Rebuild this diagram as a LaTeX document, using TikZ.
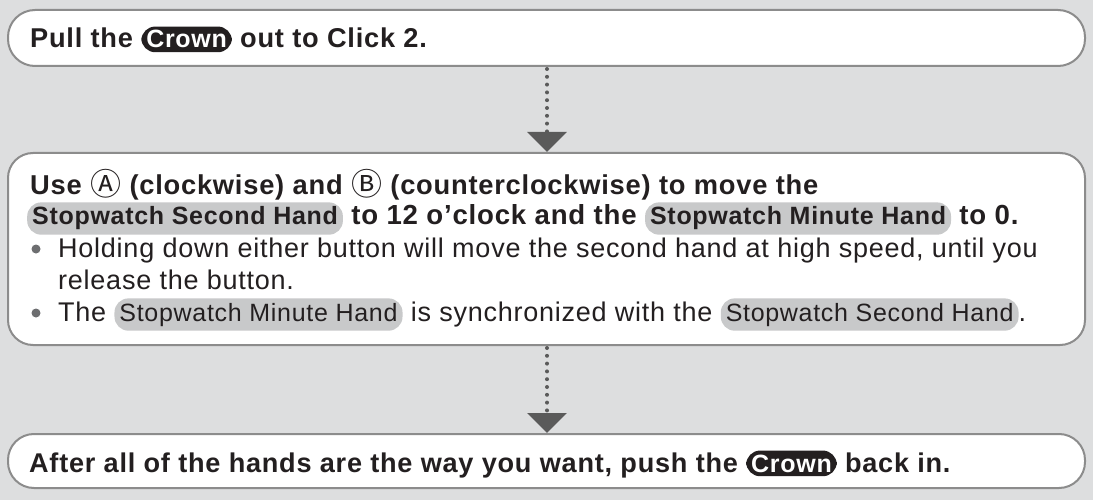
\documentclass[tikz,border=0pt]{standalone}
\usepackage{fontspec}
\setmainfont[LetterSpace=2.8]{Liberation Sans}
\newfontfamily\circfont{Noto Sans CJK JP}
\usetikzlibrary{arrows.meta}
\definecolor{bg}{HTML}{DDDEDF}
\definecolor{frame}{HTML}{8C8C8C}
\definecolor{ink}{HTML}{231F20}
\definecolor{pillgray}{HTML}{C8C9CA}
\definecolor{arrowgray}{HTML}{5A5A5A}
\definecolor{bulletgray}{HTML}{6D6E70}
\tikzset{
  stepbox/.style={draw=frame, line width=2pt, fill=white, inner sep=0pt},
  flowarrow/.style={arrowgray, line width=4pt, line cap=round,
    dash pattern=on 0pt off 7.8pt,
    -{Triangle[width=39pt,length=20pt,line cap=butt]}},
  boldline/.style={anchor=base west, inner sep=0pt, text=ink,
    font=\bfseries\fontsize{#1}{32}\selectfont},
  boldline/.default=27.5,
  plainline/.style={anchor=base west, inner sep=0pt, text=ink,
    font=\fontsize{27}{32}\selectfont},
  bulletdot/.style={circle, fill=bulletgray, inner sep=0pt, minimum size=9pt},
  crownpillstyle/.style={fill=ink, text=white, rounded corners=14pt,
    inner xsep=5pt, inner ysep=4pt, font=\bfseries\fontsize{25}{28}\selectfont},
  graypillstyle/.style={fill=pillgray, text=ink, rounded corners=14pt,
    inner xsep=5pt, inner ysep=4.5pt},
}
\newcommand{\crownpill}[1]{\tikz[baseline=(cp.base)]\node[crownpillstyle](cp){#1};}
\newcommand{\graypill}[1]{\tikz[baseline=(gp.base)]\node[graypillstyle,font=\bfseries\fontsize{25}{28}\selectfont](gp){#1};}
\newcommand{\graypillr}[1]{\tikz[baseline=(gq.base)]\node[graypillstyle,font=\mdseries\fontsize{25}{28}\selectfont](gq){#1};}
\newcommand{\circA}{{\circfont\mdseries\fontsize{31}{31}\selectfont\raisebox{-1pt}{Ⓐ}}}
\newcommand{\circB}{{\circfont\mdseries\fontsize{31}{31}\selectfont\raisebox{-1pt}{Ⓑ}}}
\begin{document}
\begin{tikzpicture}[x=1pt,y=-1pt]
\fill[bg] (0,0) rectangle (1093,500);
\useasboundingbox (0,0) rectangle (1093,500);

\node[stepbox, rounded corners=27pt, minimum width=1077pt, minimum height=56pt] (b1) at (546.5,38) {};
\node[stepbox, rounded corners=25pt, minimum width=1077pt, minimum height=192pt] (b2) at (546.5,249) {};
\node[stepbox, rounded corners=26pt, minimum width=1077pt, minimum height=54pt] (b3) at (546.5,461) {};

\coordinate (a1s) at (547,68);
\coordinate (a1e) at (547,151);
\coordinate (a2s) at (547,347);
\coordinate (a2e) at (547,433);
\draw[flowarrow] (b1.south -| a1s) ++(0,2) -- (b2.north -| a1e);
\draw[flowarrow] (b2.south -| a2s) ++(0,2) -- (b3.north -| a2e);

\node[boldline=27.2] (t1) at (30,48) {Pull the \crownpill{Crown} out to Click 2.};

\node[boldline=27.3] (t2) at (30,195) {Use \circA\ (clockwise) and \circB\ (counterclockwise) to move the};
\node[boldline=27.6] (t3) at (27,225) {\graypill{Stopwatch Second Hand} to 12 o’clock and the \graypill{Stopwatch Minute Hand} to 0.};

\node[bulletdot] (d1) at (36,249) {};
\node[plainline] (t4) at (58,257) {Holding down either button will move the second hand at high speed, until you};
\node[plainline] (t5) at (58,289) {release the button.};
\node[bulletdot] (d2) at (36,313) {};
\node[plainline] (t6) at (58,321) {The \graypillr{Stopwatch Minute Hand} is synchronized with the \graypillr{Stopwatch Second Hand}.};

\node[boldline=27.1] (t7) at (29,472) {After all of the hands are the way you want, push the \crownpill{Crown} back in.};
\end{tikzpicture}
\end{document}
